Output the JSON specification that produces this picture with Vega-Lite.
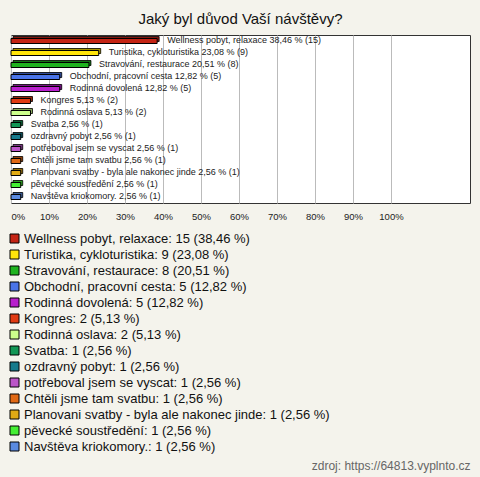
{
 "$schema": "https://vega.github.io/schema/vega-lite/v6.json",
 "width": 459, "height": 168,
 "autosize": {"type": "none"},
 "padding": {"left": 11, "top": 35, "right": 10, "bottom": 274},
 "background": "#f4f3ec",
 "title": {"text": "Jaký byl důvod Vaší návštěvy?", "fontSize": 15, "font": "Liberation Sans", "fontWeight": "normal", "color": "#111", "offset": 8},
 "config": {"view": {"fill": "white", "stroke": "#333", "strokeWidth": 1}, "font": "Liberation Sans"},
 "data": {"values": [
  {"order": 1, "name": "Wellness pobyt, relaxace", "count": 15, "pct": 38.46, "label": "Wellness pobyt, relaxace 38,46 % (15)", "legend": "Wellness pobyt, relaxace: 15 (38,46 %)"},
  {"order": 2, "name": "Turistika, cykloturistika", "count": 9, "pct": 23.08, "label": "Turistika, cykloturistika 23,08 % (9)", "legend": "Turistika, cykloturistika: 9 (23,08 %)"},
  {"order": 3, "name": "Stravování, restaurace", "count": 8, "pct": 20.51, "label": "Stravování, restaurace 20,51 % (8)", "legend": "Stravování, restaurace: 8 (20,51 %)"},
  {"order": 4, "name": "Obchodní, pracovní cesta", "count": 5, "pct": 12.82, "label": "Obchodní, pracovní cesta 12,82 % (5)", "legend": "Obchodní, pracovní cesta: 5 (12,82 %)"},
  {"order": 5, "name": "Rodinná dovolená", "count": 5, "pct": 12.82, "label": "Rodinná dovolená 12,82 % (5)", "legend": "Rodinná dovolená: 5 (12,82 %)"},
  {"order": 6, "name": "Kongres", "count": 2, "pct": 5.13, "label": "Kongres 5,13 % (2)", "legend": "Kongres: 2 (5,13 %)"},
  {"order": 7, "name": "Rodinná oslava", "count": 2, "pct": 5.13, "label": "Rodinná oslava 5,13 % (2)", "legend": "Rodinná oslava: 2 (5,13 %)"},
  {"order": 8, "name": "Svatba", "count": 1, "pct": 2.56, "label": "Svatba 2,56 % (1)", "legend": "Svatba: 1 (2,56 %)"},
  {"order": 9, "name": "ozdravný pobyt", "count": 1, "pct": 2.56, "label": "ozdravný pobyt 2,56 % (1)", "legend": "ozdravný pobyt: 1 (2,56 %)"},
  {"order": 10, "name": "potřeboval jsem se vyscat", "count": 1, "pct": 2.56, "label": "potřeboval jsem se vyscat 2,56 % (1)", "legend": "potřeboval jsem se vyscat: 1 (2,56 %)"},
  {"order": 11, "name": "Chtěli jsme tam svatbu", "count": 1, "pct": 2.56, "label": "Chtěli jsme tam svatbu 2,56 % (1)", "legend": "Chtěli jsme tam svatbu: 1 (2,56 %)"},
  {"order": 12, "name": "Planovani svatby - byla ale nakonec jinde", "count": 1, "pct": 2.56, "label": "Planovani svatby - byla ale nakonec jinde 2,56 % (1)", "legend": "Planovani svatby - byla ale nakonec jinde: 1 (2,56 %)"},
  {"order": 13, "name": "pěvecké soustředění", "count": 1, "pct": 2.56, "label": "pěvecké soustředění 2,56 % (1)", "legend": "pěvecké soustředění: 1 (2,56 %)"},
  {"order": 14, "name": "Navštěva kriokomory.", "count": 1, "pct": 2.56, "label": "Navštěva kriokomory. 2,56 % (1)", "legend": "Navštěva kriokomory.: 1 (2,56 %)"}
 ]},
 "encoding": {
  "y": {"field": "name", "type": "nominal", "sort": {"field": "order"}, "scale": {"paddingInner": 0, "paddingOuter": 0}, "axis": null},
  "x": {"field": "pct", "type": "quantitative", "scale": {"domain": [0, 120.8], "nice": false},
   "axis": {"values": [0,10,20,30,40,50,60,70,80,90,100], "labelExpr": "datum.value + '%'", "grid": true, "gridColor": "#bbbbbb", "gridWidth": 1, "ticks": false, "tickSize": 0, "domain": false, "labelFontSize": 9.5, "labelFont": "Liberation Sans", "labelColor": "#222", "labelPadding": 8, "labelFlush": true,
    "title": "zdroj: https://64813.vyplnto.cz", "titleFont": "Liberation Sans", "titleFontSize": 12, "titleFontWeight": "normal", "titleColor": "#666", "titleAnchor": "end", "titleAlign": "right", "titleX": 459, "titleY": 266, "titleBaseline": "alphabetic"}}
 },
 "layer": [
  {"mark": {"type": "bar", "height": 5, "xOffset": 2, "yOffset": -2, "stroke": "#000", "strokeWidth": 0.8},
   "encoding": {"color": {"field": "legend", "type": "nominal",
    "scale": {"domain": ["Wellness pobyt, relaxace: 15 (38,46 %)", "Turistika, cykloturistika: 9 (23,08 %)", "Stravování, restaurace: 8 (20,51 %)", "Obchodní, pracovní cesta: 5 (12,82 %)", "Rodinná dovolená: 5 (12,82 %)", "Kongres: 2 (5,13 %)", "Rodinná oslava: 2 (5,13 %)", "Svatba: 1 (2,56 %)", "ozdravný pobyt: 1 (2,56 %)", "potřeboval jsem se vyscat: 1 (2,56 %)", "Chtěli jsme tam svatbu: 1 (2,56 %)", "Planovani svatby - byla ale nakonec jinde: 1 (2,56 %)", "pěvecké soustředění: 1 (2,56 %)", "Navštěva kriokomory.: 1 (2,56 %)"],
     "range": ["#c42414", "#ffe40a", "#1fb31f", "#4a74e8", "#b81fcc", "#e03a12", "#ccff8c", "#129655", "#157a8c", "#bb55c8", "#e06814", "#e0aa14", "#44ee33", "#5a8ae0"]},
    "legend": {"orient": "none", "legendX": -3, "legendY": 197, "title": null, "symbolType": "square", "symbolSize": 81, "symbolStrokeColor": "#000", "symbolStrokeWidth": 1, "symbolOpacity": 1, "labelFontSize": 13, "labelFont": "Liberation Sans", "labelColor": "#111", "labelLimit": 400, "labelOffset": 3, "rowPadding": 2, "padding": 0}}}},
  {"mark": {"type": "bar", "height": 5, "xOffset": 2, "yOffset": -2, "color": "#000", "opacity": 0.35}},
  {"mark": {"type": "bar", "height": 5, "stroke": "#000", "strokeWidth": 1},
   "encoding": {"color": {"field": "legend", "type": "nominal"}}},
  {"mark": {"type": "text", "align": "left", "baseline": "middle", "dx": 10, "dy": -1, "fontSize": 9, "font": "Liberation Sans", "color": "#222"},
   "encoding": {"text": {"field": "label"}}}
 ]
}
